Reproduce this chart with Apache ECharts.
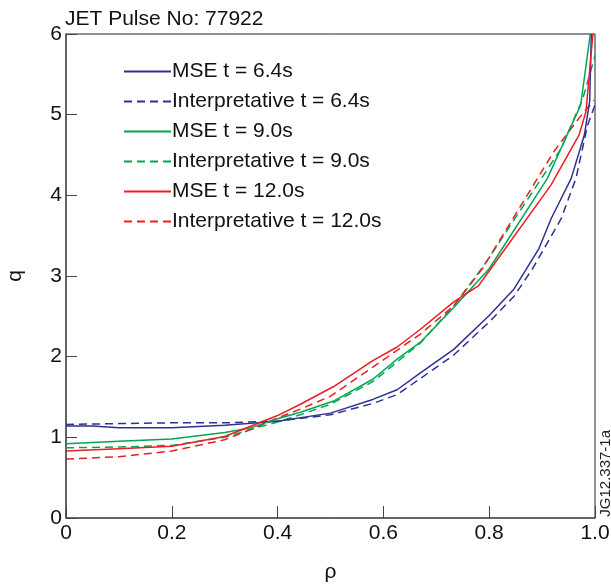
<!DOCTYPE html>
<html><head><meta charset="utf-8">
<script src="https://cdn.jsdelivr.net/npm/echarts@6/dist/echarts.min.js"></script>
<style>html,body{margin:0;padding:0;background:#fff}#c{width:611px;height:586px}</style>
</head><body><div id="c"></div>
<script>
const xTicks = [0, 0.2, 0.4, 0.6, 0.8, 1.0];
const seriesNames = ["MSE t = 6.4s","Interpretative t = 6.4s","MSE t = 9.0s","Interpretative t = 9.0s","MSE t = 12.0s","Interpretative t = 12.0s"];

const rhoMse64 = [0, 0.05, 0.1, 0.2, 0.3, 0.4, 0.5, 0.58, 0.626, 0.67, 0.733, 0.8, 0.847, 0.894, 0.917, 0.955, 0.98, 0.99, 0.993];
const qMse64   = [1.14, 1.14, 1.12, 1.12, 1.15, 1.2, 1.3, 1.47, 1.59, 1.8, 2.09, 2.51, 2.84, 3.34, 3.71, 4.21, 4.75, 5.17, 6.0];

const rhoInt64 = [0, 0.1, 0.2, 0.3, 0.4, 0.5, 0.58, 0.626, 0.67, 0.733, 0.8, 0.847, 0.882, 0.936, 0.964, 0.986, 1.0];
const qInt64   = [1.16, 1.17, 1.18, 1.18, 1.2, 1.28, 1.42, 1.53, 1.73, 2.02, 2.43, 2.75, 3.09, 3.71, 4.21, 4.87, 5.12];

const rhoMse90 = [0, 0.1, 0.2, 0.3, 0.35, 0.4, 0.443, 0.506, 0.58, 0.626, 0.67, 0.733, 0.8, 0.91, 0.973, 0.991];
const qMse90   = [0.92, 0.95, 0.98, 1.06, 1.12, 1.23, 1.31, 1.45, 1.72, 1.97, 2.18, 2.61, 3.09, 4.21, 5.12, 6.0];

const rhoInt90 = [0, 0.1, 0.2, 0.3, 0.35, 0.4, 0.443, 0.5, 0.58, 0.67, 0.733, 0.79, 0.936, 0.977, 1.0];
const qInt90   = [0.87, 0.88, 0.9, 1.0, 1.1, 1.19, 1.28, 1.41, 1.69, 2.17, 2.63, 3.13, 4.58, 5.2, 5.73];

const rhoMse120 = [0, 0.1, 0.2, 0.3, 0.35, 0.4, 0.443, 0.506, 0.58, 0.626, 0.67, 0.733, 0.78, 0.803, 0.917, 0.97, 0.983, 0.996];
const qMse120   = [0.83, 0.86, 0.89, 1.01, 1.14, 1.27, 1.41, 1.63, 1.95, 2.12, 2.34, 2.68, 2.88, 3.09, 4.13, 4.75, 5.04, 6.0];

const rhoInt120 = [0, 0.1, 0.2, 0.3, 0.35, 0.4, 0.443, 0.5, 0.58, 0.67, 0.733, 0.787, 0.922, 0.97, 0.998];
const qInt120   = [0.73, 0.76, 0.83, 0.97, 1.1, 1.24, 1.35, 1.51, 1.87, 2.28, 2.63, 3.09, 4.54, 4.96, 5.18];

const BLUE = '#2e3192', GREEN = '#00a651', RED = '#ed1c24';
const FONT = 'Liberation Sans';

function pairs(xs, ys){ return xs.map((x,i)=>[x, ys[i]]); }
function mk(name, xs, ys, color, dashed){
  return {
    name, type:'line', data: pairs(xs, ys), symbol:'none', smooth:false,
    lineStyle:{color, width:1.5, type: dashed ? [8,5] : 'solid'},
    itemStyle:{color}, animation:false, z: dashed ? 3 : 4
  };
}

const chart = echarts.init(document.getElementById('c'), null, {renderer:'canvas'});
chart.setOption({
  animation:false,
  backgroundColor:'#fff',
  title:{text:'JET Pulse No: 77922', left:60, top:4, textStyle:{fontFamily:FONT, fontSize:21, fontWeight:'normal', color:'#111'}},
  grid:{left:66, right:16, top:34, bottom:68, containLabel:false, outerBoundsMode:'none',
    show:true, borderColor:'#222', borderWidth:1, backgroundColor:'transparent'},
  legend:{
    orient:'vertical', left:123, top:61, padding:0, itemWidth:47, itemHeight:16, itemGap:9,
    data: seriesNames.slice(),
    itemStyle:{opacity:0},
    textStyle:{fontFamily:FONT, fontSize:21, color:'#111', padding:[0,0,0,-4]},
    selectedMode:false
  },
  xAxis:{type:'value', min:0, max:1, interval:0.2,
    name:'ρ', nameLocation:'middle', nameGap:44, nameTextStyle:{fontFamily:FONT, fontSize:21, color:'#111'},
    axisLine:{show:true, lineStyle:{color:'#555', width:1.5}},
    axisTick:{show:true, inside:true, length:12, lineStyle:{color:'#444'}},
    splitLine:{show:false},
    axisLabel:{fontFamily:FONT, fontSize:21, color:'#111', margin:5,
      formatter:v=> v===0 ? '0' : v.toFixed(1)}
  },
  yAxis:{type:'value', min:0, max:6, interval:1,
    name:'q', nameLocation:'middle', nameGap:40, nameRotate:90, nameTextStyle:{fontFamily:FONT, fontSize:21, color:'#111'},
    axisLine:{show:true, lineStyle:{color:'#555', width:1.5}},
    axisTick:{show:true, inside:true, length:11, lineStyle:{color:'#444'}},
    splitLine:{show:false},
    axisLabel:{fontFamily:FONT, fontSize:21, color:'#111', margin:4}
  },
  graphic:[{type:'text', left:598, top:430, rotation:Math.PI/2,
    style:{text:'JG12.337-1a', fontFamily:FONT, fontSize:15, fill:'#222'}}],
  series:[
    mk(seriesNames[0], rhoMse64, qMse64, BLUE, false),
    mk(seriesNames[1], rhoInt64, qInt64, BLUE, true),
    mk(seriesNames[2], rhoMse90, qMse90, GREEN, false),
    mk(seriesNames[3], rhoInt90, qInt90, GREEN, true),
    mk(seriesNames[4], rhoMse120, qMse120, RED, false),
    mk(seriesNames[5], rhoInt120, qInt120, RED, true)
  ]
});
</script></body></html>
